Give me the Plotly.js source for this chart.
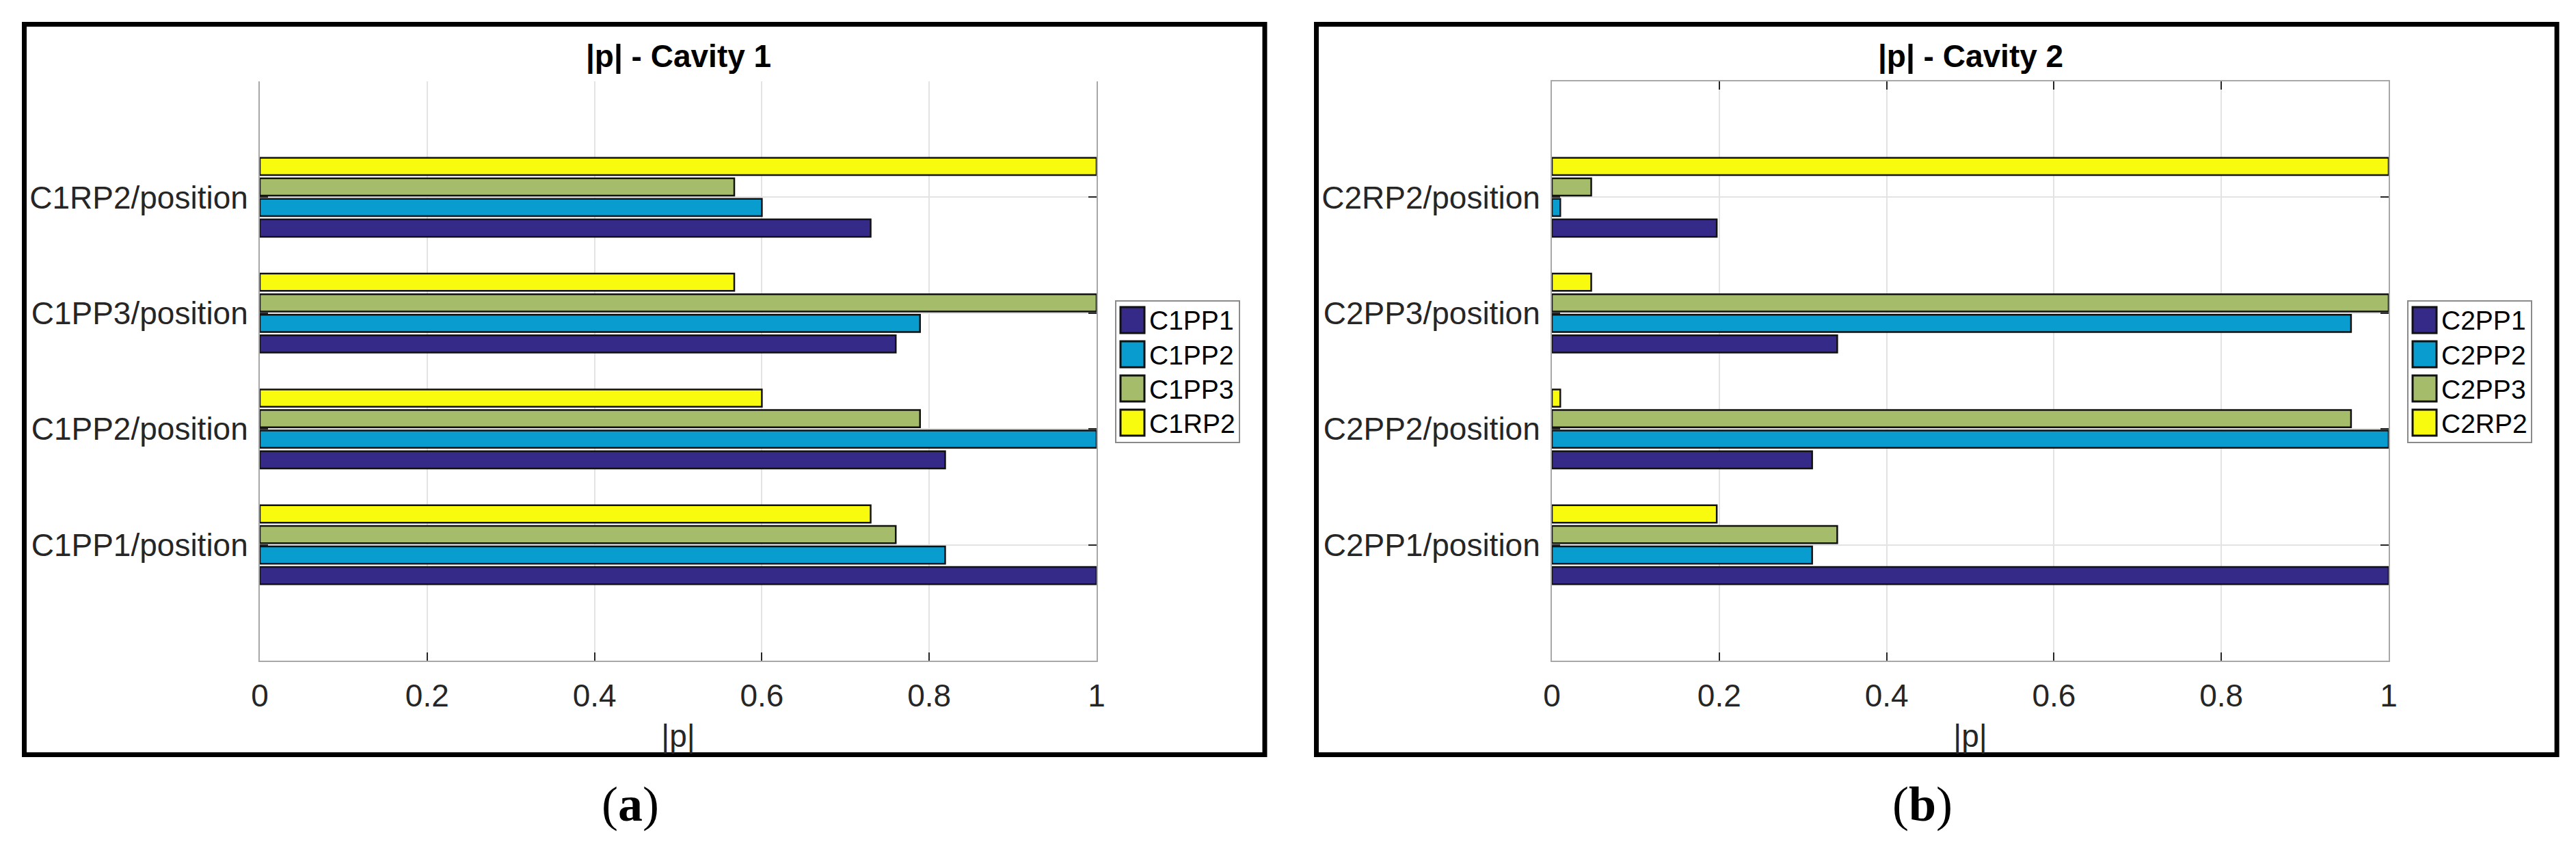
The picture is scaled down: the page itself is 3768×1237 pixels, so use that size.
<!DOCTYPE html>
<html>
<head>
<meta charset="utf-8">
<script src="https://cdn.plot.ly/plotly-3.0.1.min.js"></script>
<style>
  html, body { margin: 0; padding: 0; background: #fff; }
  #chart { width: 3768px; height: 1237px; }
</style>
</head>
<body>
<div id="chart"></div>
<script>
// categories, bottom to top
const cav1Categories = ["C1PP1/position", "C1PP2/position", "C1PP3/position", "C1RP2/position"];
const cav2Categories = ["C2PP1/position", "C2PP2/position", "C2PP3/position", "C2RP2/position"];

const cav1Names = ["C1PP1", "C1PP2", "C1PP3", "C1RP2"];
const cav2Names = ["C2PP1", "C2PP2", "C2PP3", "C2RP2"];

// |p| values, one array per series (same order as categories)
const cav1PP1 = [1.000, 0.819, 0.760, 0.730];
const cav1PP2 = [0.819, 1.000, 0.789, 0.600];
const cav1PP3 = [0.760, 0.789, 1.000, 0.567];
const cav1RP2 = [0.730, 0.600, 0.567, 1.000];

const cav2PP1 = [1.000, 0.311, 0.341, 0.197];
const cav2PP2 = [0.311, 1.000, 0.955, 0.010];
const cav2PP3 = [0.341, 0.955, 1.000, 0.047];
const cav2RP2 = [0.197, 0.010, 0.047, 1.000];

const xTickVals = [0, 0.2, 0.4, 0.6, 0.8, 1];
const xTickText = ["0", "0.2", "0.4", "0.6", "0.8", "1"];

const COLORS = ["#352a87", "#099dcf", "#a5bd6a", "#f9fb0e"];

const W = 3768, H = 1237;
const px = (v) => v / W;
const py = (v) => 1 - v / H;
const SHIFT = [0, 1890];

const FONT = "Liberation Sans, Arial, sans-serif";

const makeBars = (values, names, cats, i) =>
  values.map((vals, k) => ({
    type: "bar",
    orientation: "h",
    name: names[k],
    x: vals,
    y: cats,
    xaxis: i === 0 ? "x" : "x2",
    yaxis: i === 0 ? "y" : "y2",
    marker: { color: COLORS[k], line: { color: "#111111", width: 2.5 } },
    showlegend: false,
    hoverinfo: "skip",
  }));

const data = [
  ...makeBars([cav1PP1, cav1PP2, cav1PP3, cav1RP2], cav1Names, cav1Categories, 0),
  ...makeBars([cav2PP1, cav2PP2, cav2PP3, cav2RP2], cav2Names, cav2Categories, 1),
];

const xAxis = (i) => ({
  domain: [px(380 + SHIFT[i]), px(1604 + SHIFT[i])],
  anchor: i === 0 ? "y" : "y2",
  range: [0, 1],
  tickvals: xTickVals,
  ticktext: xTickText,
  ticks: "inside",
  ticklen: 12,
  tickwidth: 2,
  tickcolor: "#262626",
  ticklabelstandoff: 10,
  showline: true,
  linecolor: "#a8a8a8",
  linewidth: 2,
  mirror: i === 1 ? "ticks" : false,
  showgrid: true,
  gridcolor: "#e3e3e3",
  gridwidth: 2,
  zeroline: false,
  tickfont: { family: FONT, size: 46, color: "#262626" },
  title: { text: "|p|", font: { family: FONT, size: 46, color: "#262626" }, standoff: 18 },
  fixedrange: true,
});

const yAxis = (i, cats) => ({
  domain: [py(966), py(119)],
  anchor: i === 0 ? "x" : "x2",
  type: "category",
  categoryorder: "array",
  categoryarray: cats,
  range: [-1, 4],
  ticks: "inside",
  ticklen: 12,
  tickwidth: 2,
  tickcolor: "#262626",
  ticklabelstandoff: 6,
  showline: true,
  linecolor: "#a8a8a8",
  linewidth: 2,
  mirror: "ticks",
  showgrid: true,
  gridcolor: "#e3e3e3",
  gridwidth: 2,
  zeroline: false,
  tickfont: { family: FONT, size: 46, color: "#262626" },
  fixedrange: true,
});

const shapes = [];
const annotations = [];

[cav1Names, cav2Names].forEach((names, i) => {
  const s = SHIFT[i];
  // panel frame
  shapes.push({
    type: "rect", xref: "paper", yref: "paper",
    x0: px(35.5 + s), x1: px(1850 + s), y0: py(1103.5), y1: py(35.5),
    line: { color: "#000000", width: 7 },
  });
  // legend box
  shapes.push({
    type: "rect", xref: "paper", yref: "paper",
    x0: px(1632 + s), x1: px(1813 + s), y0: py(647), y1: py(440),
    fillcolor: "#ffffff", line: { color: "#8a8a8a", width: 2 },
  });
  names.forEach((name, k) => {
    const cy = 468 + 50 * k;
    shapes.push({
      type: "rect", xref: "paper", yref: "paper",
      x0: px(1639 + s), x1: px(1674 + s), y0: py(cy + 19), y1: py(cy - 19),
      fillcolor: COLORS[k], line: { color: "#111111", width: 3 },
    });
    annotations.push({
      xref: "paper", yref: "paper", x: px(1679 + s), y: py(cy + 1),
      xanchor: "left", yanchor: "middle", showarrow: false,
      text: name, font: { family: FONT, size: 39, color: "#000000" },
    });
  });
  // panel title
  annotations.push({
    xref: "paper", yref: "paper", x: px(992 + s), y: py(82),
    xanchor: "center", yanchor: "middle", showarrow: false,
    text: "<b>|p| - Cavity " + (i + 1) + "</b>",
    font: { family: FONT, size: 46, color: "#000000" },
  });
  // caption
  annotations.push({
    xref: "paper", yref: "paper", x: px(922 + s), y: py(1176),
    xanchor: "center", yanchor: "middle", showarrow: false,
    text: i === 0 ? "(<b>a</b>)" : "(<b>b</b>)",
    font: { family: "Liberation Serif, Times New Roman, serif", size: 72, color: "#000000" },
  });
});

const layout = {
  width: W,
  height: H,
  margin: { l: 0, r: 0, t: 0, b: 0, pad: 0 },
  paper_bgcolor: "#ffffff",
  plot_bgcolor: "#ffffff",
  barmode: "group",
  bargap: 0.29,
  bargroupgap: 0.16,
  showlegend: false,
  xaxis: xAxis(0),
  yaxis: yAxis(0, cav1Categories),
  xaxis2: xAxis(1),
  yaxis2: yAxis(1, cav2Categories),
  shapes: shapes,
  annotations: annotations,
};

Plotly.newPlot("chart", data, layout, { staticPlot: true, displayModeBar: false });
</script>
</body>
</html>
